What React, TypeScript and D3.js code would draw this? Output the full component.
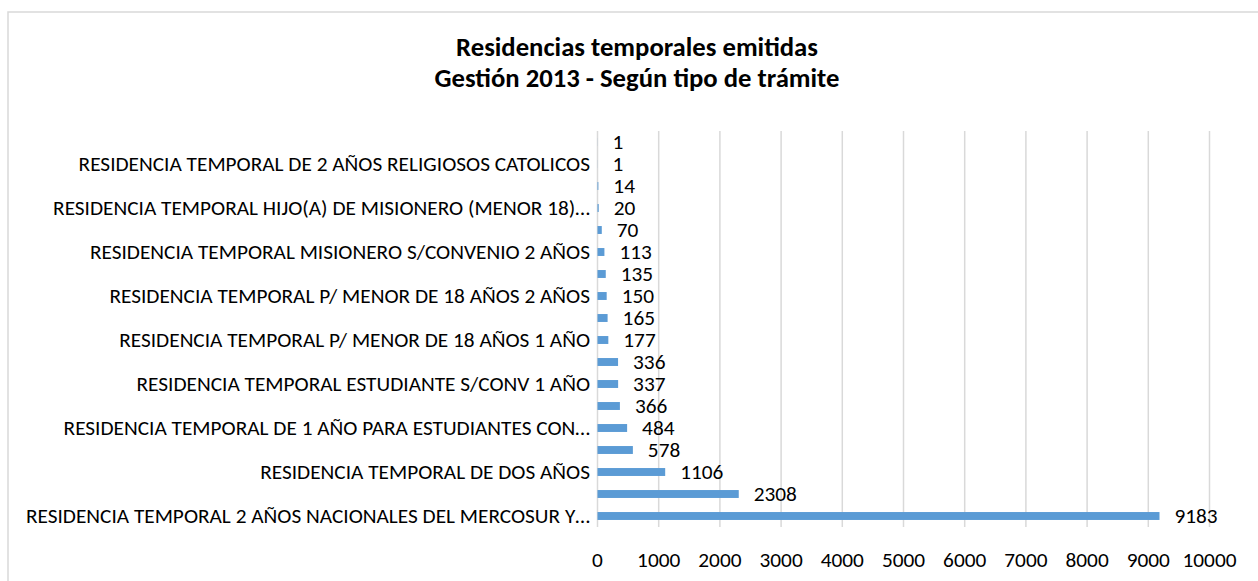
import React from "react";
import * as d3 from "d3";

const titleLines = ["Residencias temporales emitidas", "Gestión 2013 - Según tipo de trámite"];

// bottom to top
const categories = [
  "RESIDENCIA TEMPORAL 2 AÑOS NACIONALES DEL MERCOSUR Y…",
  "",
  "RESIDENCIA TEMPORAL DE DOS AÑOS",
  "",
  "RESIDENCIA TEMPORAL DE 1 AÑO PARA ESTUDIANTES CON…",
  "",
  "RESIDENCIA TEMPORAL ESTUDIANTE S/CONV 1 AÑO",
  "",
  "RESIDENCIA TEMPORAL P/ MENOR DE 18 AÑOS 1 AÑO",
  "",
  "RESIDENCIA TEMPORAL P/ MENOR DE 18 AÑOS 2 AÑOS",
  "",
  "RESIDENCIA TEMPORAL MISIONERO S/CONVENIO 2 AÑOS",
  "",
  "RESIDENCIA TEMPORAL HIJO(A) DE MISIONERO (MENOR 18)…",
  "",
  "RESIDENCIA TEMPORAL DE 2 AÑOS RELIGIOSOS CATOLICOS",
  "",
];
const values = [9183, 2308, 1106, 578, 484, 366, 337, 336, 177, 165, 150, 135, 113, 70, 20, 14, 1, 1];
const xTicks = [0, 1000, 2000, 3000, 4000, 5000, 6000, 7000, 8000, 9000, 10000];

const W = 1258;
const H = 581;
const plot = { left: 597.5, right: 1209.5, top: 131, bottom: 527 };
const FONT = "Carlito, Lato, 'Open Sans', sans-serif";
const LABEL_SIZE = 21.3;
const TITLE_SIZE = 26.7;

export default function App() {
  const x = d3.scaleLinear().domain([0, 10000]).range([plot.left, plot.right]);
  const idx = d3.range(values.length);
  const y = d3
    .scaleBand<number>()
    .domain(idx)
    .range([plot.bottom, plot.top])
    .paddingInner(0.64)
    .paddingOuter(0.32);
  const bw = y.bandwidth();

  return (
    <svg
      width={W}
      height={H}
      style={{ position: "absolute", left: 0, top: 0, display: "block", background: "#fff" }}
      fontFamily={FONT}
    >
      <rect x={8} y={12} width={W} height={H} fill="#fff" stroke="#d9d9d9" strokeWidth={1.5} />
      <text x={637} y={56} textAnchor="middle" fontSize={TITLE_SIZE} fontWeight="bold" fill="#000">
        {titleLines[0]}
      </text>
      <text x={637} y={87} textAnchor="middle" fontSize={TITLE_SIZE} fontWeight="bold" fill="#000">
        {titleLines[1]}
      </text>
      {xTicks.map((t) => (
        <line key={"g" + t} x1={x(t)} x2={x(t)} y1={plot.top} y2={plot.bottom} stroke="#d9d9d9" strokeWidth={1.5} />
      ))}
      {idx.map((i) => (
        <rect key={"b" + i} x={x(0)} y={y(i)!} width={x(values[i]) - x(0)} height={bw} fill="#5b9bd5" />
      ))}
      {idx.map((i) => (
        <text
          key={"v" + i}
          x={x(values[i]) + 15}
          y={y(i)! + bw / 2}
          dy="0.35em"
          fontSize={LABEL_SIZE}
          fill="#000"
        >
          {values[i]}
        </text>
      ))}
      {idx.map((i) =>
        categories[i] ? (
          <text
            key={"c" + i}
            x={590}
            y={y(i)! + bw / 2}
            dy="0.35em"
            textAnchor="end"
            fontSize={LABEL_SIZE}
            fill="#000"
          >
            {categories[i]}
          </text>
        ) : null
      )}
      {xTicks.map((t) => (
        <text key={"t" + t} x={x(t)} y={560} dy="0.35em" textAnchor="middle" fontSize={LABEL_SIZE} fill="#000">
          {t}
        </text>
      ))}
    </svg>
  );
}
